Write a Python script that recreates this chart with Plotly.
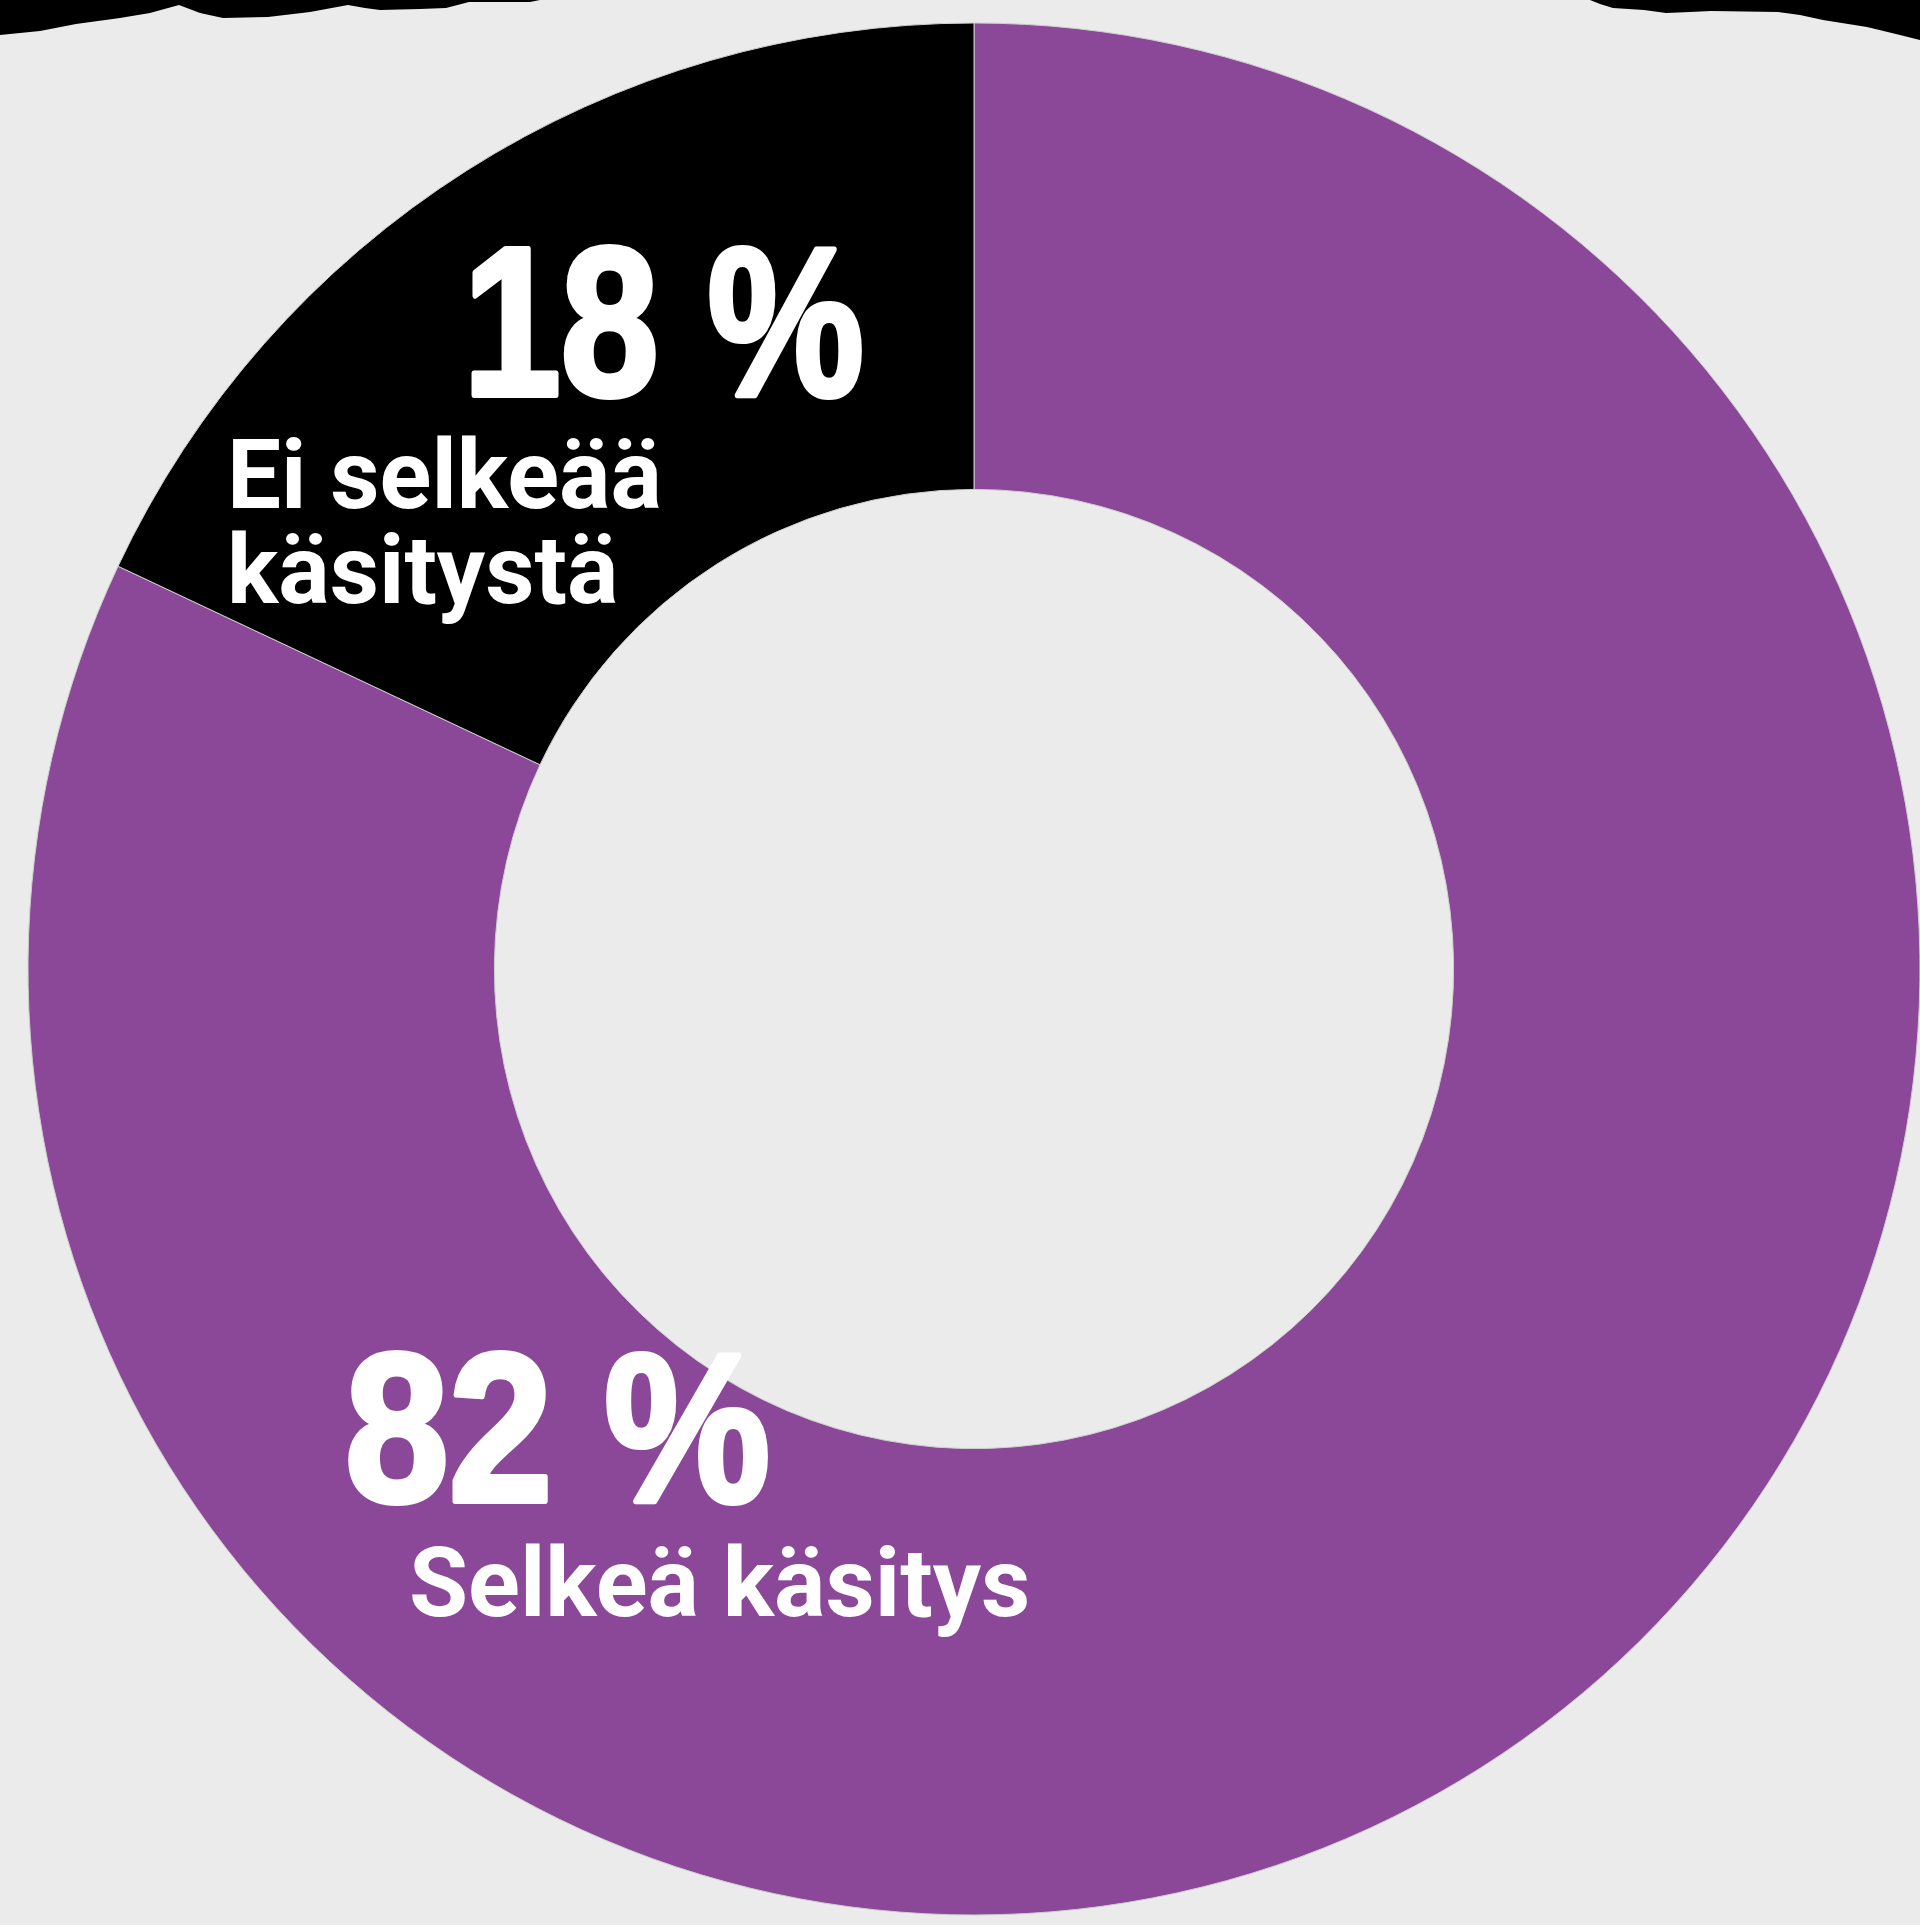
import plotly.graph_objects as go

# Survey split: share of respondents with / without a clear view
labels = ["Selkeä käsitys", "Ei selkeää käsitystä"]
values = [82, 18]
colors = ["#8b4798", "#000000"]
value_texts = ["82 %", "18 %"]

W, H = 1920, 1925
BG = "#ebebeb"


def px(x):
    return x / W


def py(y):
    return 1 - y / H


# Donut geometry (pixels): centre and outer radius
cx, cy, r = 974, 969, 946
dom_x = [px(cx - r), px(cx + r)]
dom_y = [py(cy + r), py(cy - r)]

# Clockwise from 12 o'clock: the larger share first, the smaller one
# closes the ring just left of the top.
fig = go.Figure(
    go.Pie(
        labels=labels,
        values=values,
        marker=dict(colors=colors, line=dict(color="#cfcfcf", width=1)),
        hole=0.507,
        sort=False,
        direction="clockwise",
        rotation=0,
        textinfo="none",
        hoverinfo="skip",
        showlegend=False,
        domain=dict(x=dom_x, y=dom_y),
    )
)

big_font = dict(family="Liberation Sans, Arial, sans-serif", size=212, color="white")
small_font = dict(family="Roboto", size=96, color="white")

annotations = [
    dict(text=f"<b>{value_texts[1]}</b>", x=px(462), y=py(322), font=big_font),
    dict(text="<b>Ei selkeää</b>", x=px(226), y=py(475), font=small_font),
    dict(text="<b>käsitystä</b>", x=px(226), y=py(570), font=small_font),
    dict(text=f"<b>{value_texts[0]}</b>", x=px(344), y=py(1427), font=big_font),
    dict(text="<b>Selkeä käsitys</b>", x=px(408), y=py(1583), font=small_font),
]
for a in annotations:
    a.update(xref="paper", yref="paper", xanchor="left", yanchor="middle",
             showarrow=False, borderpad=0)

# Torn black paper edge along the top
left_edge = [(0, 0), (0, 35), (40, 31), (76, 24), (120, 18), (150, 13), (179, 5),
             (200, 13), (223, 18), (268, 17), (310, 12), (348, 5), (365, 8),
             (380, 10), (420, 9), (446, 8), (469, 2), (530, 2), (540, 0)]
right_edge = [(1590, 0), (1600, 4), (1613, 8), (1644, 10), (1666, 13), (1690, 12),
              (1711, 11), (1778, 12), (1800, 15), (1823, 20), (1867, 27),
              (1900, 35), (1920, 40), (1920, 0)]


def path_of(points):
    pts = " L ".join(f"{px(x):.5f},{py(y):.5f}" for x, y in points)
    return f"M {pts} Z"


shapes = [
    dict(type="path", path=path_of(left_edge), xref="paper", yref="paper",
         fillcolor="black", line=dict(width=0), layer="above"),
    dict(type="path", path=path_of(right_edge), xref="paper", yref="paper",
         fillcolor="black", line=dict(width=0), layer="above"),
]

fig.update_layout(
    width=W,
    height=H,
    margin=dict(l=0, r=0, t=0, b=0),
    paper_bgcolor=BG,
    plot_bgcolor=BG,
    annotations=annotations,
    shapes=shapes,
)

# Give the big percentage figures a heavy, condensed display look:
# thicken the strokes and narrow them horizontally about their left edge.
condense_js = """
var gd = document.getElementById('{plot_id}');
var widths = {'18 %': 0.83, '82 %': 0.88};
gd.querySelectorAll('text.annotation-text').forEach(function (t) {
  var key = t.textContent.trim();
  if (!(key in widths)) { return; }
  t.style.stroke = 'white';
  t.style.strokeWidth = '6px';
  t.style.strokeLinejoin = 'round';
  var b = t.getBBox();
  var sx = widths[key];
  t.setAttribute('transform',
    'translate(' + b.x + ',0) scale(' + sx + ',1) translate(' + (-b.x) + ',0)');
});
"""

fig.write_html("out.html", config={"displayModeBar": False}, post_script=condense_js)
